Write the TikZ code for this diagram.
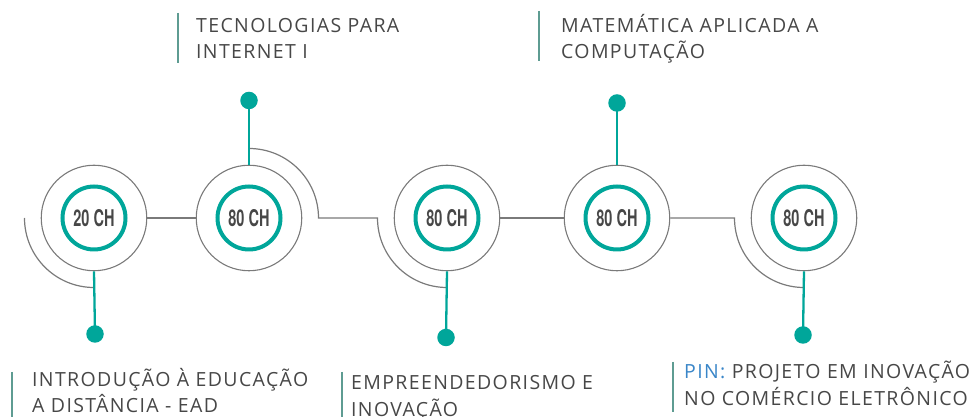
\documentclass[tikz,border=0pt]{standalone}
\usepackage{fontspec}
\usepackage{graphicx}
\setmainfont[LetterSpace=7]{Open Sans}
\newfontfamily\labfont{TeX Gyre Heros}
\definecolor{teal1}{HTML}{00A69A}
\definecolor{ringgray}{HTML}{7A7A7A}
\definecolor{txtgray}{HTML}{474747}
\definecolor{bargray}{HTML}{5E9C92}
\definecolor{pinblue}{HTML}{3A86C8}
\begin{document}
\begin{tikzpicture}[x=1pt,y=1pt,
  outer/.style={circle,draw=ringgray,line width=1.1pt,minimum size=105.5pt,inner sep=0pt},
  inner/.style={circle,draw=teal1,line width=4pt,minimum size=63pt,inner sep=0pt,
    font=\labfont\bfseries\fontsize{23}{23}\selectfont,text=txtgray},
  link/.style={draw=ringgray,line width=1.2pt},
  stem/.style={draw=teal1,line width=2.3pt},
  dot/.style={circle,fill=teal1,minimum size=17.5pt,inner sep=0pt},
  ttl/.style={anchor=base west,inner sep=0pt,text=txtgray,font=\fontsize{19.5}{26}\selectfont},
  bar/.style={draw=bargray,line width=1.6pt}]
\useasboundingbox (0,0) rectangle (980,417);
% circles
\node[outer] (c1) at (94,199) {};
\node[outer] (c2) at (249,199) {};
\node[outer] (c3) at (447,199) {};
\node[outer] (c4) at (617,199) {};
\node[outer] (c5) at (804,199) {};
\node[inner] (i1) at (c1) {\scalebox{0.63}[1]{20 CH}};
\node[inner] (i2) at (c2) {\scalebox{0.63}[1]{80 CH}};
\node[inner] (i3) at (c3) {\scalebox{0.63}[1]{80 CH}};
\node[inner] (i4) at (c4) {\scalebox{0.63}[1]{80 CH}};
\node[inner] (i5) at (c5) {\scalebox{0.63}[1]{80 CH}};
% arcs and links
\coordinate (a1) at ([xshift=-69.5pt]c1.center);
\coordinate (a2) at ([yshift=69.5pt]c2.center);
\coordinate (a3) at ([xshift=-69.5pt]c3.center);
\coordinate (a5) at ([xshift=-69.5pt]c5.center);
\draw[link] (a1) arc[start angle=180,end angle=270,radius=69.5pt];
\draw[link] (c1.east) -- (c2.west);
\draw[link] (a2) arc[start angle=90,end angle=0,radius=69.5pt] -- (a3)
  arc[start angle=180,end angle=270,radius=69.5pt];
\draw[link] (c3.east) -- (c4.west);
\draw[link] (c4.east) -- (a5) arc[start angle=180,end angle=270,radius=69.5pt];
% stems and dots
\node[dot] (d1) at (95,83) {};
\node[dot] (d2) at (249,316.5) {};
\node[dot] (d3) at (446,79.5) {};
\node[dot] (d4) at (617,314) {};
\node[dot] (d5) at (803,82) {};
\draw[stem] (c1.south) -- (d1.center);
\draw[stem] (c2.north) -- (d2.center);
\draw[stem] (c3.south) -- (d3.center);
\draw[stem] (c4.north) -- (d4.center);
\draw[stem] (c5.south) -- (d5.center);
% titles
\coordinate (b2t) at (178,404); \coordinate (b2b) at (178,354);
\draw[bar] (b2t) -- (b2b);
\node[ttl] (t2a) at (196,384.3) {TECNOLOGIAS PARA};
\node[ttl] (t2b) at (196,358.7) {INTERNET I};
\coordinate (b4t) at (539,406); \coordinate (b4b) at (539,356);
\draw[bar] (b4t) -- (b4b);
\node[ttl] (t4a) at (561,384.3) {MATEMÁTICA APLICADA A};
\node[ttl] (t4b) at (561,358.7) {COMPUTAÇÃO};
\coordinate (b1t) at (12,45); \coordinate (b1b) at (12,0);
\draw[bar] (b1t) -- (b1b);
\node[ttl] (t1a) at (32,30.3) {INTRODUÇÃO À EDUCAÇÃO};
\node[ttl] (t1b) at (32,4.3) {A DISTÂNCIA - EAD};
\coordinate (b3t) at (342,45); \coordinate (b3b) at (342,0);
\draw[bar] (b3t) -- (b3b);
\node[ttl] (t3a) at (351,27) {EMPREENDEDORISMO E};
\node[ttl] (t3b) at (351,0.8) {INOVAÇÃO};
\coordinate (b5t) at (673,55); \coordinate (b5b) at (673,5);
\draw[bar] (b5t) -- (b5b);
\node[ttl] (t5a) at (684,38) {\textcolor{pinblue}{PIN:} PROJETO EM INOVAÇÃO};
\node[ttl] (t5b) at (684,11.5) {NO COMÉRCIO ELETRÔNICO};
\end{tikzpicture}
\end{document}
